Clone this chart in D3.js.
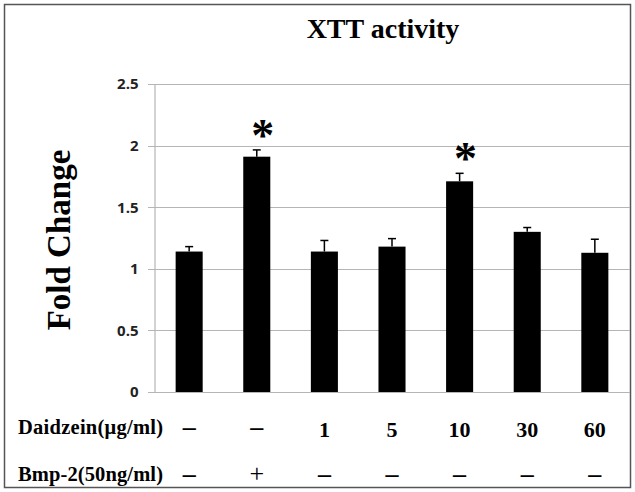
<!DOCTYPE html>
<html>
<head>
<meta charset="utf-8">
<script src="https://cdn.jsdelivr.net/npm/d3@7"></script>
<style>
  body { margin: 0; background: #fff; }
</style>
</head>
<body>
<div id="chart"></div>
<script>
// data
const groups = ['ctrl', 'bmp2', 'd1', 'd5', 'd10', 'd30', 'd60'];
const foldChange = [1.14, 1.91, 1.14, 1.18, 1.71, 1.30, 1.13];
const errors = [0.04, 0.055, 0.09, 0.065, 0.065, 0.035, 0.11];
const significant = [false, true, false, false, true, false, false];
const daidzeinRow = ['–', '–', '1', '5', '10', '30', '60'];
const bmpRow = ['–', '+', '–', '–', '–', '–', '–'];
const yTicks = [0, 0.5, 1, 1.5, 2, 2.5];

const W = 635, H = 492;
const margin = { top: 84, right: 5, bottom: 100, left: 154 };
const serif = 'Liberation Serif, Times New Roman, serif';

const svg = d3.select('#chart')
  .append('svg')
  .attr('width', W)
  .attr('height', H);

// outer frame
svg.append('rect')
  .attr('x', 4.5).attr('y', 4.5)
  .attr('width', W - 9).attr('height', H - 9)
  .attr('fill', 'none')
  .attr('stroke', '#555')
  .attr('stroke-width', 1.5);

const x = d3.scaleBand()
  .domain(groups)
  .range([margin.left, W - margin.right])
  .paddingInner(0.6)
  .paddingOuter(0.32);

const y = d3.scaleLinear()
  .domain([0, 2.5])
  .range([H - margin.bottom, margin.top]);

const cx = i => x(groups[i]) + x.bandwidth() / 2;

// gridlines
svg.append('g')
  .selectAll('line')
  .data(yTicks)
  .enter()
  .append('line')
  .attr('x1', margin.left - 6)
  .attr('x2', W - margin.right)
  .attr('y1', d => Math.round(y(d)) + 0.5)
  .attr('y2', d => Math.round(y(d)) + 0.5)
  .attr('stroke', '#b5b5b5')
  .attr('stroke-width', 1.2);

// y axis
const yAxis = svg.append('g')
  .attr('transform', `translate(${margin.left + 0.5},0)`)
  .call(d3.axisLeft(y).tickValues(yTicks).tickFormat(d3.format('')).tickSize(0).tickPadding(16));
yAxis.select('.domain').attr('stroke', '#b5b5b5').attr('stroke-width', 1.2);
yAxis.selectAll('text')
  .attr('font-family', 'Open Sans, sans-serif')
  .attr('font-weight', 'bold')
  .attr('font-size', 15)
  .attr('fill', '#222');

// bars
svg.append('g')
  .selectAll('rect')
  .data(foldChange)
  .enter()
  .append('rect')
  .attr('x', (d, i) => x(groups[i]))
  .attr('y', d => y(d))
  .attr('width', x.bandwidth())
  .attr('height', d => y(0) - y(d))
  .attr('fill', '#000');

// error bars (upper only)
const err = svg.append('g').attr('stroke', '#000').attr('stroke-width', 1.5);
foldChange.forEach((d, i) => {
  err.append('line')
    .attr('x1', cx(i)).attr('x2', cx(i))
    .attr('y1', y(d)).attr('y2', y(d + errors[i]));
  err.append('line')
    .attr('x1', cx(i) - 4).attr('x2', cx(i) + 4)
    .attr('y1', y(d + errors[i])).attr('y2', y(d + errors[i]));
});

// significance stars
significant.forEach((s, i) => {
  if (!s) return;
  svg.append('text')
    .attr('x', cx(i) + 6)
    .attr('y', y(foldChange[i] + errors[i]) + 1)
    .attr('text-anchor', 'middle')
    .attr('font-family', serif)
    .attr('font-weight', 'bold')
    .attr('font-size', 46)
    .text('*');
});

// title
svg.append('text')
  .attr('x', 383).attr('y', 38)
  .attr('text-anchor', 'middle')
  .attr('font-family', serif)
  .attr('font-weight', 'bold')
  .attr('font-size', 28)
  .text('XTT activity');

// y axis title
svg.append('text')
  .attr('transform', `translate(70,${(y(0) + y(2.5)) / 2 + 2}) rotate(-90)`)
  .attr('text-anchor', 'middle')
  .attr('font-family', serif)
  .attr('font-weight', 'bold')
  .attr('font-size', 33)
  .text('Fold Change');

// treatment table
const rows = [
  { label: 'Daidzein(\u03bcg/ml)', vals: daidzeinRow, y: 434 },
  { label: 'Bmp-2(50ng/ml)', vals: bmpRow, y: 481 }
];
rows.forEach(r => {
  svg.append('text')
    .attr('x', 18).attr('y', r.y)
    .attr('font-family', serif)
    .attr('font-weight', 'bold')
    .attr('font-size', 20.5)
    .attr('textLength', 145)
    .text(r.label);
  svg.append('g')
    .selectAll('text')
    .data(r.vals)
    .enter()
    .append('text')
    .attr('x', (d, i) => cx(i))
    .attr('y', d => d === '–' ? r.y + 1 : (d === '+' ? r.y + 1 : r.y + 3))
    .attr('text-anchor', 'middle')
    .attr('font-family', serif)
    .attr('font-weight', d => d === '+' ? 'normal' : 'bold')
    .attr('font-size', d => d === '–' || d === '+' ? 26 : 22)
    .text(d => d);
});
</script>
</body>
</html>
